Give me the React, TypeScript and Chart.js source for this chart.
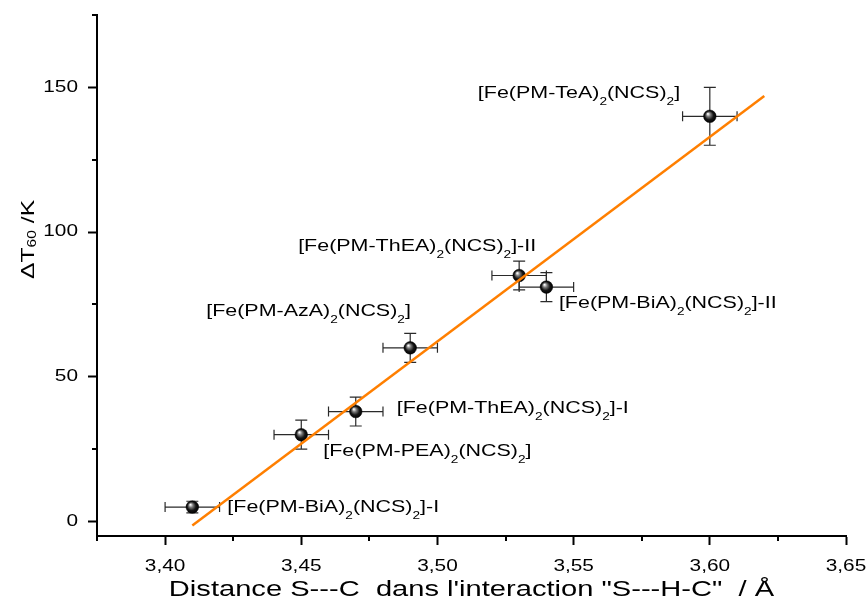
import React, { useEffect, useRef } from 'react';
import { Chart, registerables } from 'chart.js';

Chart.register(...registerables);

// ---------------- data ----------------
const xValues = [3.41, 3.45, 3.47, 3.49, 3.53, 3.54, 3.60];
const yValues = [5, 30, 38, 60, 85, 81, 140];
const xErrors = [0.01, 0.01, 0.01, 0.01, 0.01, 0.01, 0.01];
const yErrors = [2, 5, 5, 5, 5, 5, 10];
const pointLabels = [
  '[Fe(PM-BiA)_{2}(NCS)_{2}]-I',
  '[Fe(PM-PEA)_{2}(NCS)_{2}]',
  '[Fe(PM-ThEA)_{2}(NCS)_{2}]-I',
  '[Fe(PM-AzA)_{2}(NCS)_{2}]',
  '[Fe(PM-ThEA)_{2}(NCS)_{2}]-II',
  '[Fe(PM-BiA)_{2}(NCS)_{2}]-II',
  '[Fe(PM-TeA)_{2}(NCS)_{2}]',
];
const fitX = [3.41, 3.62];
const fitY = [-1.4, 147];
const xTicks = [3.4, 3.45, 3.5, 3.55, 3.6, 3.65];
const xMinorTicks = [3.375, 3.425, 3.475, 3.525, 3.575, 3.625];
const yTicks = [0, 50, 100, 150];
const yMinorTicks = [25, 75, 125, 175];
const xTitle = 'Distance S---C  dans l\'interaction "S---H-C"  / Å';
const yTitle = 'ΔT_{60} /K';

// ---------------- layout / style ----------------
const X_MIN = 3.375;
const X_MAX = 3.65;
const Y_MIN = -5;
const Y_MAX = 175;
const FONT = "'Liberation Sans', Arial, sans-serif";
const STRETCH = 1.3;
// label anchor offsets (px from point centre to left/baseline of label)
const labelOffsets: [number, number][] = [
  [35, 4.5],
  [22, 21],
  [41, 1.5],
  [-204, -31.5],
  [-221, -25],
  [12.5, 20.5],
  [-232, -18.5],
];

function parseRich(s: string) {
  const segs: { t: string; sub: boolean }[] = [];
  const re = /_\{([^}]*)\}/g;
  let last = 0;
  let m: RegExpExecArray | null;
  while ((m = re.exec(s))) {
    if (m.index > last) segs.push({ t: s.slice(last, m.index), sub: false });
    segs.push({ t: m[1], sub: true });
    last = m.index + m[0].length;
  }
  if (last < s.length) segs.push({ t: s.slice(last), sub: false });
  return segs;
}

function drawRich(ctx: CanvasRenderingContext2D, s: string, x: number, y: number, size: number, subSize: number, subShift: number) {
  let cx = x;
  ctx.textAlign = 'left';
  ctx.textBaseline = 'alphabetic';
  for (const seg of parseRich(s)) {
    ctx.font = `${seg.sub ? subSize : size}px ${FONT}`;
    ctx.fillText(seg.t, cx, y + (seg.sub ? subShift : 0));
    cx += ctx.measureText(seg.t).width;
  }
}

const decorPlugin = {
  id: 'decor',
  beforeDatasetsDraw(chart: any) {
    const { ctx } = chart;
    const xs = chart.scales.x;
    const ys = chart.scales.y;
    ctx.save();
    ctx.strokeStyle = '#2a2a2a';
    ctx.lineWidth = 1.2;
    for (let i = 0; i < xValues.length; i++) {
      const px = xs.getPixelForValue(xValues[i]);
      const py = ys.getPixelForValue(yValues[i]);
      const x1 = xs.getPixelForValue(xValues[i] - xErrors[i]);
      const x2 = xs.getPixelForValue(xValues[i] + xErrors[i]);
      const y1 = ys.getPixelForValue(yValues[i] - yErrors[i]);
      const y2 = ys.getPixelForValue(yValues[i] + yErrors[i]);
      ctx.beginPath();
      ctx.moveTo(x1, py); ctx.lineTo(x2, py);
      ctx.moveTo(x1, py - 5); ctx.lineTo(x1, py + 5);
      ctx.moveTo(x2, py - 5); ctx.lineTo(x2, py + 5);
      ctx.moveTo(px, y1); ctx.lineTo(px, y2);
      ctx.moveTo(px - 6, y1); ctx.lineTo(px + 6, y1);
      ctx.moveTo(px - 6, y2); ctx.lineTo(px + 6, y2);
      ctx.stroke();
    }
    ctx.restore();
  },
  afterDraw(chart: any) {
    const { ctx, chartArea } = chart;
    const xs = chart.scales.x;
    const ys = chart.scales.y;
    ctx.save();
    // minor ticks
    ctx.strokeStyle = '#000';
    ctx.lineWidth = 2;
    ctx.beginPath();
    for (const v of xMinorTicks) {
      const px = Math.round(xs.getPixelForValue(v));
      ctx.moveTo(px, chartArea.bottom);
      ctx.lineTo(px, chartArea.bottom + 5);
    }
    for (const v of yMinorTicks) {
      const py = Math.round(ys.getPixelForValue(v));
      ctx.moveTo(chartArea.left, py);
      ctx.lineTo(chartArea.left - 5, py);
    }
    ctx.stroke();
    // point labels
    ctx.fillStyle = '#000';
    for (let i = 0; i < xValues.length; i++) {
      const px = xs.getPixelForValue(xValues[i]);
      const py = ys.getPixelForValue(yValues[i]);
      drawRich(ctx, pointLabels[i], px + labelOffsets[i][0], py + labelOffsets[i][1], 16.5, 10.5, 7);
    }
    // y axis title
    ctx.translate(34, 279);
    ctx.rotate(-Math.PI / 2);
    drawRich(ctx, yTitle, 0, 0, 19, 12, 2);
    ctx.restore();
  },
};

export default function App() {
  const ref = useRef<HTMLCanvasElement | null>(null);

  useEffect(() => {
    document.body.style.margin = '0';
    const canvas = ref.current!;
    const ctx = canvas.getContext('2d')! as any;
    const origFill = ctx.fillText;
    const origMeasure = ctx.measureText;
    ctx.fillText = function (text: string, x: number, y: number) {
      this.save();
      this.translate(x, y);
      this.scale(STRETCH, 1);
      origFill.call(this, text, 0, 0);
      this.restore();
    };
    ctx.measureText = function (text: string) {
      const m = origMeasure.call(this, text);
      return {
        width: m.width * STRETCH,
        actualBoundingBoxLeft: m.actualBoundingBoxLeft * STRETCH,
        actualBoundingBoxRight: m.actualBoundingBoxRight * STRETCH,
        actualBoundingBoxAscent: m.actualBoundingBoxAscent,
        actualBoundingBoxDescent: m.actualBoundingBoxDescent,
        fontBoundingBoxAscent: m.fontBoundingBoxAscent,
        fontBoundingBoxDescent: m.fontBoundingBoxDescent,
      };
    };

    const chart = new Chart(canvas, {
      type: 'scatter',
      data: {
        datasets: [
          {
            label: 'fit',
            data: fitX.map((x, i) => ({ x, y: fitY[i] })),
            showLine: true,
            borderColor: '#FF7F00',
            borderWidth: 2.5,
            pointRadius: 0,
            order: 0,
          } as any,
          {
            label: 'data',
            data: xValues.map((x, i) => ({ x, y: yValues[i] })),
            showLine: false,
            pointRadius: 6.3,
            pointBorderWidth: 0.5,
            pointBorderColor: '#000',
            pointBackgroundColor: (c: any) => {
              const ch = c.chart;
              const xs = ch.scales && ch.scales.x;
              const ys = ch.scales && ch.scales.y;
              if (!xs || !ys || !c.parsed) return '#000';
              const px = xs.getPixelForValue(c.parsed.x);
              const py = ys.getPixelForValue(c.parsed.y);
              if (!Number.isFinite(px) || !Number.isFinite(py)) return '#000';
              const g = ch.ctx.createRadialGradient(px - 2, py - 2.5, 0.3, px, py, 6.5);
              g.addColorStop(0, '#ffffff');
              g.addColorStop(0.3, '#7a7a7a');
              g.addColorStop(0.65, '#151515');
              g.addColorStop(1, '#000000');
              return g;
            },
            order: 1,
          } as any,
        ],
      },
      options: {
        responsive: false,
        animation: false,
        devicePixelRatio: 1,
        events: [],
        layout: { padding: { left: 0, top: 15, right: 22, bottom: 0 } },
        plugins: { legend: { display: false }, tooltip: { enabled: false } },
        scales: {
          x: {
            type: 'linear',
            position: 'bottom',
            min: X_MIN,
            max: X_MAX,
            afterBuildTicks: (s: any) => {
              s.ticks = xTicks.map((v) => ({ value: v }));
            },
            afterFit: (s: any) => {
              s.height = 65;
              s.paddingLeft = 0;
              s.paddingRight = 0;
            },
            grid: {
              drawOnChartArea: false,
              drawTicks: true,
              tickLength: 9,
              tickWidth: 2,
              tickColor: '#000',
            },
            border: { display: true, color: '#000', width: 2 },
            ticks: {
              color: '#000',
              font: { family: FONT, size: 16 },
              padding: 12,
              maxRotation: 0,
              autoSkip: false,
              callback: (v: any) => Number(v).toFixed(2).replace('.', ','),
            },
            title: {
              display: true,
              text: xTitle,
              color: '#000',
              font: { family: FONT, size: 22.4, lineHeight: 1 },
              padding: { top: 0, bottom: 0 },
            },
          },
          y: {
            type: 'linear',
            min: Y_MIN,
            max: Y_MAX,
            afterBuildTicks: (s: any) => {
              s.ticks = yTicks.map((v) => ({ value: v }));
            },
            afterFit: (s: any) => {
              s.width = 97;
              s.paddingTop = 0;
              s.paddingBottom = 0;
            },
            grid: {
              drawOnChartArea: false,
              drawTicks: true,
              tickLength: 9,
              tickWidth: 2,
              tickColor: '#000',
            },
            border: { display: true, color: '#000', width: 2 },
            ticks: {
              color: '#000',
              font: { family: FONT, size: 16 },
              padding: 10,
              autoSkip: false,
              callback: (v: any) => String(v),
            },
          },
        },
      } as any,
      plugins: [decorPlugin],
    });

    return () => {
      chart.destroy();
    };
  }, []);

  return <canvas ref={ref} width={868} height={601} style={{ display: 'block', width: 868, height: 601 }} />;
}
